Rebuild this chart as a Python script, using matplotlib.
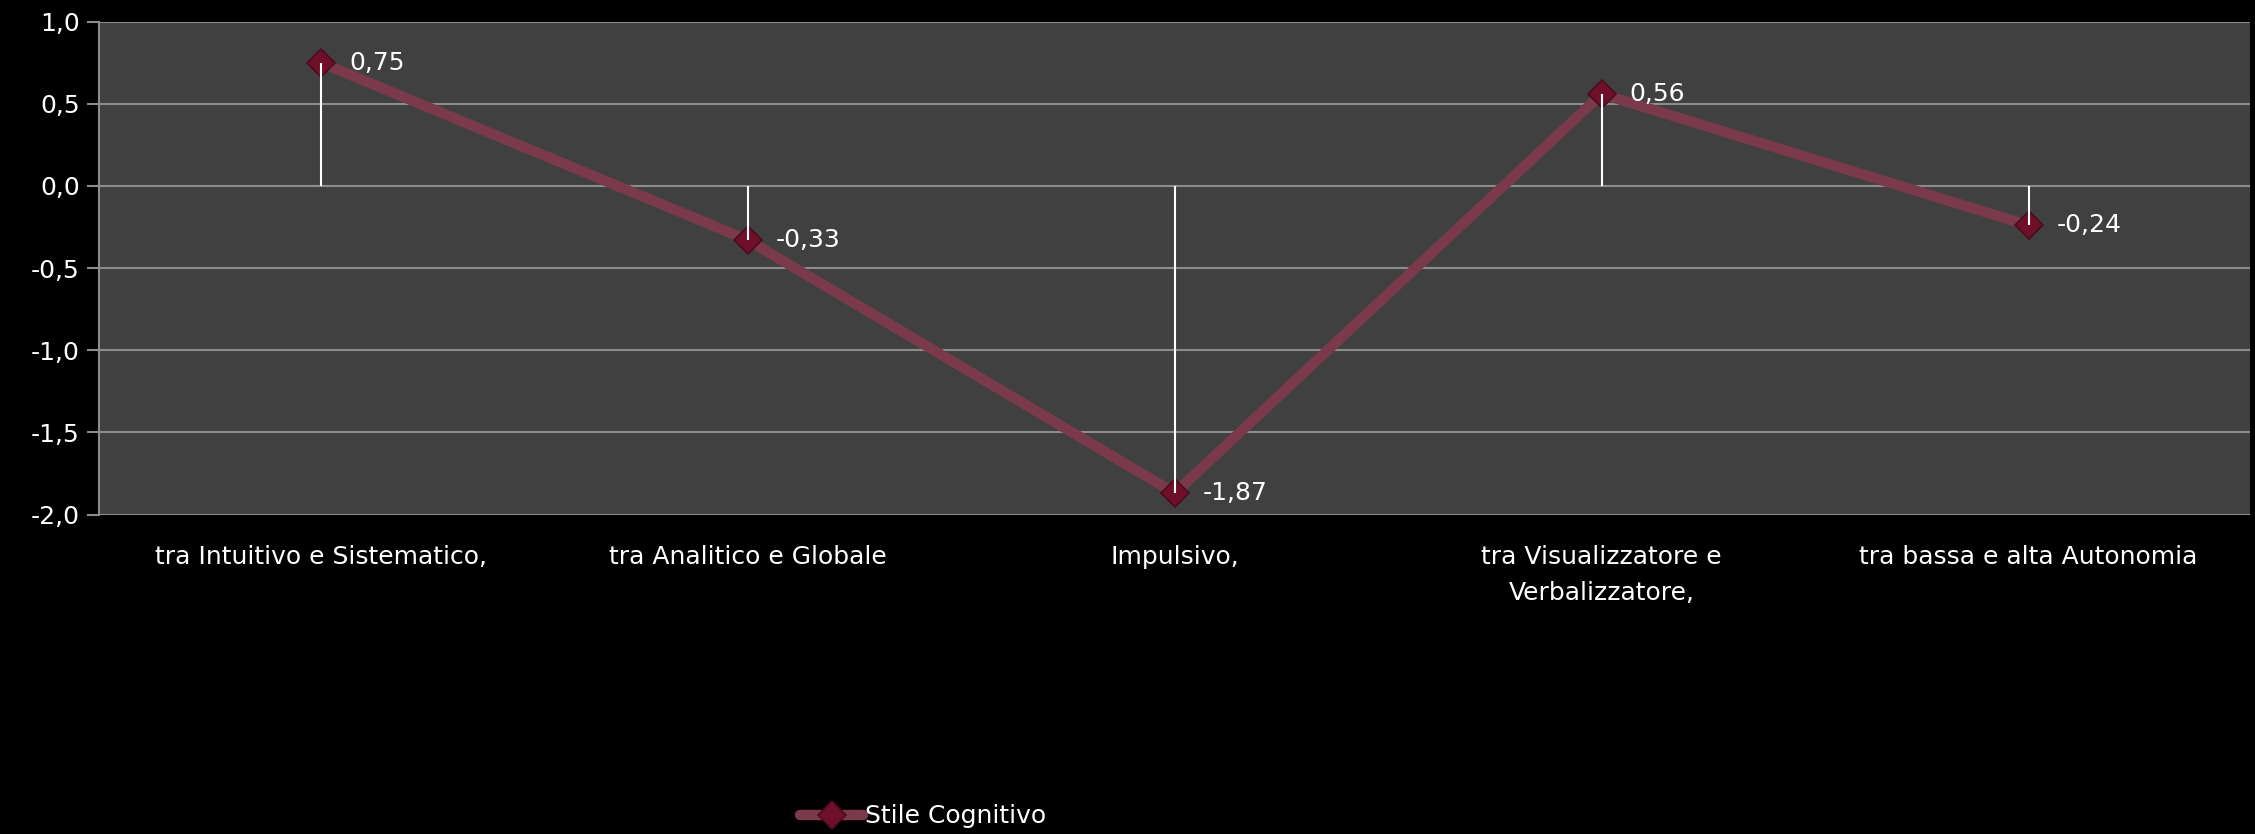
import matplotlib.pyplot as plt
from matplotlib.ticker import FuncFormatter, MultipleLocator

# Data
categories = ['tra Intuitivo e Sistematico,', 'tra Analitico e Globale', 'Impulsivo,',
              'tra Visualizzatore e\nVerbalizzatore,', 'tra bassa e alta Autonomia']
values = [0.75, -0.33, -1.87, 0.56, -0.24]
series_name = 'Stile Cognitivo'

def comma(v, decimals=1):
    return f"{v:.{decimals}f}".replace('.', ',')

plt.rcParams['font.family'] = ['DejaVu Sans']
fig = plt.figure(figsize=(22.55, 8.34), dpi=100, facecolor='black')
ax = fig.add_axes([0.044, 0.383, 0.954, 0.591])
ax.set_facecolor('#404040')

x = list(range(len(categories)))

# Line with diamond markers
ax.plot(x, values, color='#7a3a4c', lw=7.5, solid_capstyle='round', zorder=3,
        marker='D', markersize=14, markerfacecolor='#6e1029',
        markeredgecolor='#4e0a1e', markeredgewidth=1.2, label=series_name)

# White drop lines from zero to each point
ax.vlines(x, 0, values, color='white', lw=1.5, zorder=4)

# Data labels
for xi, v in zip(x, values):
    ax.annotate(comma(v, 2), (xi, v), xytext=(20, 0), textcoords='offset points',
                ha='left', va='center', color='white', fontsize=18, zorder=5)

ax.set_xlim(-0.52, 4.52)
ax.set_ylim(-2.0, 1.0)
ax.yaxis.set_major_locator(MultipleLocator(0.5))
ax.yaxis.set_major_formatter(FuncFormatter(lambda v, p: comma(v, 1)))
ax.grid(axis='y', color='#8c8c8c', lw=1.5)
ax.set_axisbelow(True)

ax.set_xticks(x)
ax.set_xticklabels(categories, color='white', fontsize=18, linespacing=1.6)
ax.tick_params(axis='x', length=0, pad=22)
ax.tick_params(axis='y', colors='#8c8c8c', labelcolor='white', labelsize=18,
               length=9, width=1.5, pad=5)

for side in ['top', 'right', 'bottom']:
    ax.spines[side].set_visible(False)
ax.spines['left'].set_color('#8c8c8c')
ax.spines['left'].set_linewidth(1.5)

leg = fig.legend(loc='center left', bbox_to_anchor=(0.345, 0.021), frameon=False,
                 fontsize=18, handlelength=2.5, handletextpad=0.1, labelcolor='white')

fig.savefig('out.png', dpi=100, facecolor='black')
